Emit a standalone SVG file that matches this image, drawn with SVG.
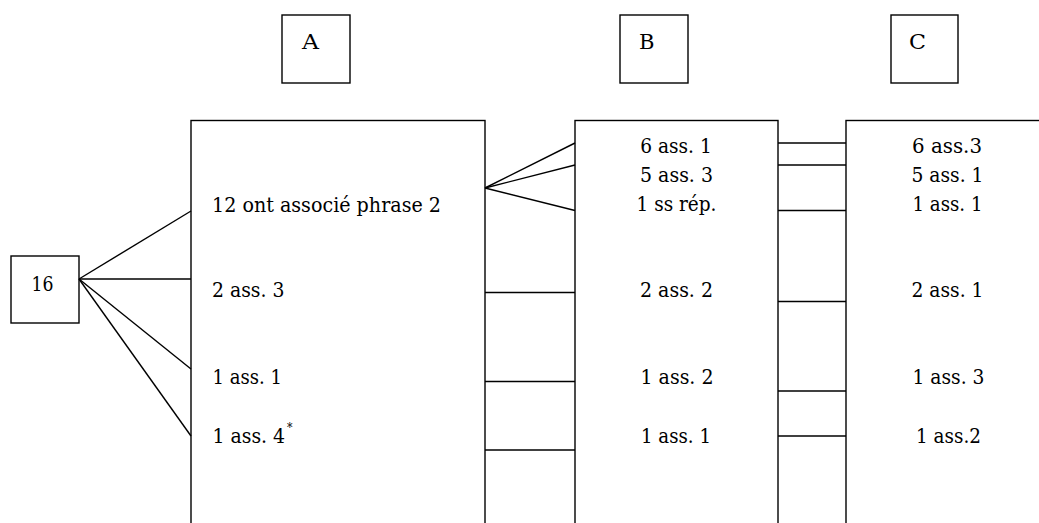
<svg xmlns="http://www.w3.org/2000/svg" width="1039" height="523" viewBox="0 0 1039 523">
<style>
rect{fill:#fff;stroke:#000;stroke-width:1.4}
line{stroke:#000;stroke-width:1.4}
text{font-family:'DejaVu Serif',serif;font-size:20.5px;fill:#000}
.m{text-anchor:middle}
.sup{font-size:12px}
</style>
<rect x="0" y="0" width="1039" height="523" style="stroke:none"/>
<g id="label-A"><rect x="282" y="15" width="68" height="68"/><text x="302" y="49" textLength="17" lengthAdjust="spacingAndGlyphs">A</text></g>
<g id="label-B"><rect x="620" y="15" width="68" height="68"/><text x="639" y="49" textLength="15.5" lengthAdjust="spacingAndGlyphs">B</text></g>
<g id="label-C"><rect x="891" y="15" width="67" height="68"/><text x="909" y="49" textLength="17" lengthAdjust="spacingAndGlyphs">C</text></g>
<g id="node-16"><rect x="11" y="256" width="68" height="67"/><text x="31.5" y="291" textLength="22" lengthAdjust="spacingAndGlyphs">16</text></g>
<g id="col-A">
<rect x="191" y="120.5" width="294" height="430"/>
<text x="212" y="211.5" textLength="229" lengthAdjust="spacingAndGlyphs">12 ont associé phrase 2</text>
<text x="212" y="297" textLength="72.5" lengthAdjust="spacingAndGlyphs">2 ass. 3</text>
<text x="212.5" y="383.5" textLength="69.5" lengthAdjust="spacingAndGlyphs">1 ass. 1</text>
<text x="212.5" y="442.5" textLength="80" lengthAdjust="spacingAndGlyphs">1 ass. 4<tspan class="sup" dx="2" dy="-11">*</tspan></text>
</g>
<g id="col-B">
<rect x="575" y="120.5" width="203" height="430"/>
<text class="m" x="676" y="153" textLength="71.5" lengthAdjust="spacingAndGlyphs">6 ass. 1</text>
<text class="m" x="676.5" y="182" textLength="73" lengthAdjust="spacingAndGlyphs">5 ass. 3</text>
<text class="m" x="676.5" y="211" textLength="80" lengthAdjust="spacingAndGlyphs">1 ss rép.</text>
<text class="m" x="676.5" y="297" textLength="73" lengthAdjust="spacingAndGlyphs">2 ass. 2</text>
<text class="m" x="677" y="383.5" textLength="73" lengthAdjust="spacingAndGlyphs">1 ass. 2</text>
<text class="m" x="676" y="442.5" textLength="70" lengthAdjust="spacingAndGlyphs">1 ass. 1</text>
</g>
<g id="col-C">
<rect x="846" y="120.5" width="260" height="430"/>
<text class="m" x="947" y="153" textLength="70" lengthAdjust="spacingAndGlyphs">6 ass.3</text>
<text class="m" x="947.5" y="182" textLength="72" lengthAdjust="spacingAndGlyphs">5 ass. 1</text>
<text class="m" x="947.5" y="211" textLength="70" lengthAdjust="spacingAndGlyphs">1 ass. 1</text>
<text class="m" x="947.5" y="297" textLength="72" lengthAdjust="spacingAndGlyphs">2 ass. 1</text>
<text class="m" x="948.5" y="383.5" textLength="72" lengthAdjust="spacingAndGlyphs">1 ass. 3</text>
<text class="m" x="948.5" y="442.5" textLength="65" lengthAdjust="spacingAndGlyphs">1 ass.2</text>
</g>
<g id="connectors">
<line x1="79" y1="279" x2="191" y2="211"/>
<line x1="79" y1="279" x2="191" y2="279"/>
<line x1="79" y1="279" x2="191" y2="369"/>
<line x1="79" y1="279" x2="191" y2="436"/>
<line x1="485" y1="188" x2="575" y2="143"/>
<line x1="485" y1="188" x2="575" y2="165"/>
<line x1="485" y1="188" x2="575" y2="210.5"/>
<line x1="485" y1="292.5" x2="575" y2="292.5"/>
<line x1="485" y1="381.5" x2="575" y2="381.5"/>
<line x1="485" y1="450" x2="575" y2="450"/>
<line x1="778" y1="143" x2="846" y2="143"/>
<line x1="778" y1="165" x2="846" y2="165"/>
<line x1="778" y1="210.5" x2="846" y2="210.5"/>
<line x1="778" y1="301.5" x2="846" y2="301.5"/>
<line x1="778" y1="391" x2="846" y2="391"/>
<line x1="778" y1="436" x2="846" y2="436"/>
</g>
</svg>
